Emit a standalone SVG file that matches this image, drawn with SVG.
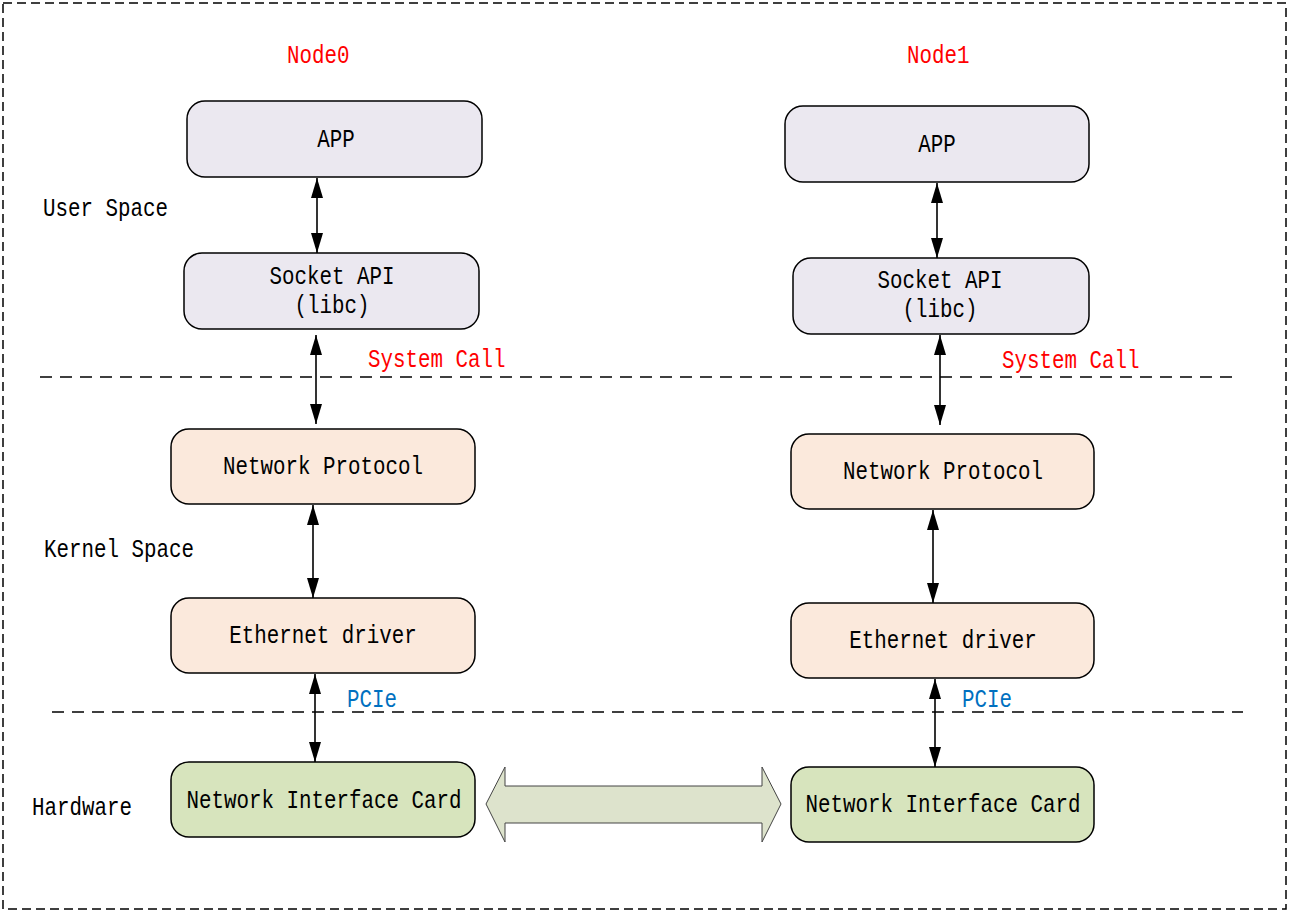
<svg xmlns="http://www.w3.org/2000/svg" width="1290" height="913" viewBox="0 0 1290 913">
<defs>
<style>
.t{font-family:"Liberation Mono","DejaVu Sans Mono",monospace;font-size:25px;fill:#000;}
.red{fill:#ff0000;}
.blue{fill:#0070c0;}
.user{fill:#ebe8f0;stroke:#000;stroke-width:1.5;}
.kern{fill:#fbe9dc;stroke:#000;stroke-width:1.5;}
.hw{fill:#d7e4bd;stroke:#000;stroke-width:1.5;}
.dash{stroke:#000;stroke-width:1.4;stroke-dasharray:12 8;fill:none;}
.conn{stroke:#000;stroke-width:1.6;fill:none;marker-start:url(#ah);marker-end:url(#ah);}
</style>
<marker id="ah" viewBox="0 0 20 12" refX="20" refY="6" markerWidth="20" markerHeight="12" markerUnits="userSpaceOnUse" orient="auto-start-reverse">
<path d="M0,0 L20,6 L0,12 z" fill="#000"/>
</marker>
</defs>
<rect width="1290" height="913" fill="#fff"/>
<rect x="3" y="3" width="1283" height="906" fill="none" stroke="#000" stroke-width="1.5" stroke-dasharray="9 5"/>
<g id="separators">
<line class="dash" x1="40" y1="377" x2="1232" y2="377"/>
<line class="dash" x1="52" y1="712" x2="1243" y2="712"/>
</g>
<g id="labels">
<text class="t red" x="287" y="63" textLength="62.5" lengthAdjust="spacingAndGlyphs">Node0</text>
<text class="t red" x="907" y="63" textLength="62.5" lengthAdjust="spacingAndGlyphs">Node1</text>
<text class="t" x="43" y="216" textLength="125" lengthAdjust="spacingAndGlyphs">User Space</text>
<text class="t" x="44" y="557" textLength="150" lengthAdjust="spacingAndGlyphs">Kernel Space</text>
<text class="t" x="32" y="815" textLength="100" lengthAdjust="spacingAndGlyphs">Hardware</text>
<text class="t red" x="368" y="367" textLength="137.5" lengthAdjust="spacingAndGlyphs">System Call</text>
<text class="t red" x="1002" y="368" textLength="137.5" lengthAdjust="spacingAndGlyphs">System Call</text>
<text class="t blue" x="347" y="707" textLength="50" lengthAdjust="spacingAndGlyphs">PCIe</text>
<text class="t blue" x="962" y="707" textLength="50" lengthAdjust="spacingAndGlyphs">PCIe</text>
</g>
<g id="n0-app"><rect class="user" x="187" y="101" width="295" height="76" rx="18"/><text class="t" x="336" y="147" text-anchor="middle" textLength="37.5" lengthAdjust="spacingAndGlyphs">APP</text></g>
<g id="n0-socket"><rect class="user" x="184" y="253" width="295" height="76" rx="18"/><text class="t" x="332" y="284" text-anchor="middle" textLength="125" lengthAdjust="spacingAndGlyphs">Socket API</text><text class="t" x="332" y="313" text-anchor="middle" textLength="75" lengthAdjust="spacingAndGlyphs">(libc)</text></g>
<g id="n0-proto"><rect class="kern" x="171" y="429" width="304" height="75" rx="18"/><text class="t" x="323" y="474" text-anchor="middle" textLength="200" lengthAdjust="spacingAndGlyphs">Network Protocol</text></g>
<g id="n0-eth"><rect class="kern" x="171" y="598" width="304" height="75" rx="18"/><text class="t" x="323" y="643" text-anchor="middle" textLength="187.5" lengthAdjust="spacingAndGlyphs">Ethernet driver</text></g>
<g id="n0-nic"><rect class="hw" x="171" y="762" width="304" height="75" rx="18"/><text class="t" x="324" y="808" text-anchor="middle" textLength="275" lengthAdjust="spacingAndGlyphs">Network Interface Card</text></g>
<g id="n1-app"><rect class="user" x="785" y="106" width="304" height="76" rx="18"/><text class="t" x="937" y="152" text-anchor="middle" textLength="37.5" lengthAdjust="spacingAndGlyphs">APP</text></g>
<g id="n1-socket"><rect class="user" x="793" y="258" width="296" height="76" rx="18"/><text class="t" x="940" y="288" text-anchor="middle" textLength="125" lengthAdjust="spacingAndGlyphs">Socket API</text><text class="t" x="940" y="317" text-anchor="middle" textLength="75" lengthAdjust="spacingAndGlyphs">(libc)</text></g>
<g id="n1-proto"><rect class="kern" x="791" y="434" width="303" height="75" rx="18"/><text class="t" x="943" y="479" text-anchor="middle" textLength="200" lengthAdjust="spacingAndGlyphs">Network Protocol</text></g>
<g id="n1-eth"><rect class="kern" x="791" y="603" width="303" height="75" rx="18"/><text class="t" x="943" y="648" text-anchor="middle" textLength="187.5" lengthAdjust="spacingAndGlyphs">Ethernet driver</text></g>
<g id="n1-nic"><rect class="hw" x="791" y="767" width="303" height="75" rx="18"/><text class="t" x="943" y="812" text-anchor="middle" textLength="275" lengthAdjust="spacingAndGlyphs">Network Interface Card</text></g>
<g id="connectors">
<line class="conn" x1="317" y1="178" x2="317" y2="253"/>
<line class="conn" x1="316" y1="335" x2="316" y2="424"/>
<line class="conn" x1="313" y1="505" x2="313" y2="598"/>
<line class="conn" x1="315" y1="674" x2="315" y2="762"/>
<line class="conn" x1="937" y1="183" x2="937" y2="258"/>
<line class="conn" x1="940" y1="335" x2="940" y2="425"/>
<line class="conn" x1="933" y1="510" x2="933" y2="603"/>
<line class="conn" x1="935" y1="679" x2="935" y2="767"/>
<polygon points="486,804 505,767 505,786 762,786 762,767 781,804 762,842 762,823 505,823 505,842" fill="#dde3cc" stroke="#444" stroke-width="1"/>
</g>
</svg>
